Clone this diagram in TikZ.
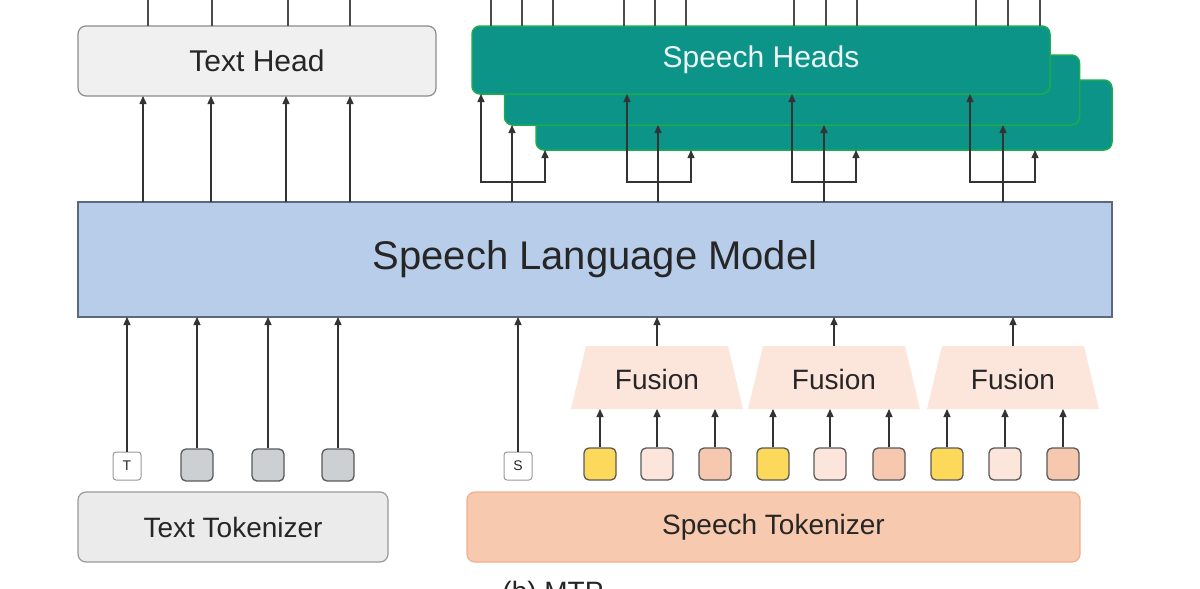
\documentclass[tikz,border=0pt]{standalone}
\usepackage{fontspec}
\setmainfont{Liberation Sans}
\usetikzlibrary{arrows.meta}
\definecolor{teal1}{RGB}{12,148,136}
\definecolor{tealb}{RGB}{30,170,80}
\definecolor{slm}{RGB}{183,205,234}
\definecolor{slmb}{RGB}{90,105,125}
\definecolor{tokg}{RGB}{204,208,211}
\definecolor{tyel}{RGB}{252,217,90}
\definecolor{tlig}{RGB}{252,230,220}
\definecolor{tsal}{RGB}{246,200,176}
\definecolor{stok}{RGB}{247,201,174}
\definecolor{stokb}{RGB}{240,176,140}
\begin{document}
\begin{tikzpicture}[x=1pt,y=-1pt,
  every node/.style={text=black!85},
  box/.style={draw,rounded corners=8pt,line width=1.2pt},
  arr/.style={line width=1.3pt,draw=black!80,-{Triangle[length=8pt,width=7pt]}},
  ln/.style={line width=1.3pt,draw=black!70},
  tok/.style={draw=black!65,line width=1.3pt,rounded corners=5pt,minimum size=32pt,inner sep=0pt},
  stk/.style={draw=black!40,line width=1pt,fill=white,rounded corners=3pt,minimum size=28pt,inner sep=0pt,font=\fontsize{14}{14}\selectfont},
  fus/.style={fill=tlig,draw=none},
  sh/.style={box,fill=teal1,draw=tealb,line width=1.5pt}]
\useasboundingbox (0,0) rectangle (1200,589);
% text head
\node[box,fill=black!6,draw=black!45,minimum width=358pt,minimum height=70pt,font=\fontsize{30}{30}\selectfont] (th) at (257,61) {Text Head};
\foreach \x in {148,212,288,350} \draw[ln] (\x,0) -- (\x,26);
% speech heads
\node[sh,minimum width=576pt,minimum height=70pt] (sh3) at (824,115) {};
\node[sh,minimum width=575pt,minimum height=70pt] (sh2) at (792,90) {};
\node[sh,minimum width=578pt,minimum height=68pt,text=white!92!teal1,font=\fontsize{30}{30}\selectfont] (sh1) at (761,60) {Speech Heads};
\foreach \x in {491,522,553, 624,655,686, 794,826,857, 976,1008,1040} \draw[ln] (\x,0) -- (\x,26);
% SLM
\node[draw=slmb,fill=slm,line width=1.5pt,minimum width=1034pt,minimum height=115pt,font=\fontsize{40}{40}\selectfont] (slm) at (595,259.5) {Speech Language Model};
% text head arrows
\foreach \x in {143,211,286,350} \draw[arr] (\x,202) -- (\x,96);
% speech head groups
\foreach \a/\b/\c in {481/512/545, 627/658/691, 792/824/856, 970/1003/1035}{
  \draw[arr] (\b,202) -- (\b,125);
  \draw[arr] (\b,182) -| (\a,94);
  \draw[arr] (\b,182) -| (\c,150);
}
% tokenizers
\node[box,fill=black!8,draw=black!40,minimum width=310pt,minimum height=70pt,font=\fontsize{28}{28}\selectfont] (tt) at (233,527) {Text Tokenizer};
\node[box,fill=stok,draw=stokb,minimum width=613pt,minimum height=70pt,font=\fontsize{28}{28}\selectfont] (st) at (773.5,527) {Speech Tokenizer};
% text tokens
\node[stk] (T) at (127,466) {T};
\foreach \x/\n in {197/a,268/b,338/c} \node[tok,fill=tokg] (t\n) at (\x,465) {};
\draw[arr] (T) -- (127,317);
\foreach \x/\n in {197/a,268/b,338/c} \draw[arr] (t\n) -- (\x,317);
\node[stk] (S) at (518,466) {S};
\draw[arr] (S) -- (518,317);
% fusion
\foreach \c/\n in {657/1,834/2,1013/3}{
  \fill[fus] (\c-86,409) -- (\c-71,346) -- (\c+71,346) -- (\c+86,409) -- cycle;
  \node[font=\fontsize{28}{28}\selectfont] (f\n) at (\c,379) {Fusion};
  \draw[arr] (\c,346) -- (\c,317);
}
\foreach \x/\col [count=\i] in {600/tyel,657/tlig,715/tsal,773/tyel,830/tlig,889/tsal,947/tyel,1005/tlig,1063/tsal}{
  \node[tok,fill=\col] (s\i) at (\x,464) {};
  \draw[arr] (s\i) -- (\x,409);
}
\node[font=\fontsize{28}{28}\selectfont,anchor=north] (cap) at (553,578) {(b) MTP};
\end{tikzpicture}
\end{document}
